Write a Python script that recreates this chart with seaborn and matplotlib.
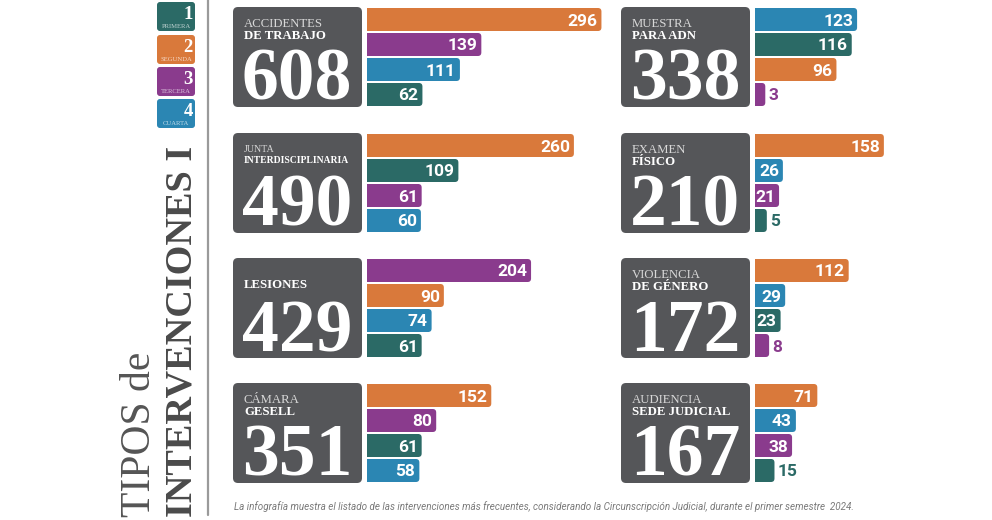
import numpy as np
import pandas as pd
import matplotlib
matplotlib.use('Agg')
import matplotlib.pyplot as plt
import seaborn as sns
from matplotlib.patches import FancyBboxPatch, Rectangle
from matplotlib import colors as mcolors

# ---- data (circunscripciones 1..4 per intervention type)
label_top = ['ACCIDENTES', 'JUNTA', '', 'CÁMARA',
             'MUESTRA', 'EXAMEN', 'VIOLENCIA', 'AUDIENCIA']
label_bottom = ['DE TRABAJO', 'INTERDISCIPLINARIA', 'LESIONES', 'GESELL',
                'PARA ADN', 'FÍSICO', 'DE GÉNERO', 'SEDE JUDICIAL']
totals = [608, 490, 429, 351, 338, 210, 172, 167]
primera = [62, 109, 61, 61, 116, 5, 23, 15]
segunda = [296, 260, 90, 152, 96, 158, 112, 71]
tercera = [139, 61, 204, 80, 3, 21, 8, 38]
cuarta = [111, 60, 74, 58, 123, 26, 29, 43]
circ_names = ['PRIMERA', 'SEGUNDA', 'TERCERA', 'CUARTA']
circ_colors = ['#2b6a66', '#d9793b', '#8a3b8d', '#2b86b3']
title_1 = 'TIPOS de'
title_2 = 'INTERVENCIONES I'
footer = ('La infografía muestra el listado de las intervenciones más frecuentes, '
          'considerando la Circunscripción Judicial, durante el primer semestre  2024.')

sns.set_style('white')
W, H = 992, 520
fig = plt.figure(figsize=(W / 100, H / 100), dpi=100)

# overlay in pixel coords
ax0 = fig.add_axes([0, 0, 1, 1])
ax0.set_xlim(0, W)
ax0.set_ylim(H, 0)
ax0.axis('off')
ax0.patch.set_alpha(0)
ax0.set_zorder(2)

PX = 0.765      # pixels per unit
OFF = 8         # small stub so short bars stay visible
UNDER = 5       # bars start under the white gap
AX_W = 300
col_x = [233, 621]
row_y = [7, 133, 258, 383]
box_w, box_h = 129, 100
box_gray = '#555659'

pal = dict(zip(circ_names, circ_colors))
series = [primera, segunda, tercera, cuarta]
x_lo = -(OFF + UNDER) / PX

for i in range(8):
    c, r = divmod(i, 4)
    bx, by = col_x[c], row_y[r]
    vals = [s[i] for s in series]
    d = pd.DataFrame({'circ': circ_names, 'valor': vals})
    d = d.sort_values('valor', ascending=False).reset_index(drop=True)
    d['pos'] = [str(k) for k in range(4)]

    x_vis = bx + box_w + 5
    ax = fig.add_axes([(x_vis - UNDER) / W, 1 - (by + box_h) / H, AX_W / W, box_h / H])
    ax.set_zorder(1)
    ax.patch.set_alpha(0)
    sns.barplot(data=d, x='valor', y='pos', hue='circ', palette=pal,
                order=['0', '1', '2', '3'], hue_order=circ_names,
                dodge=False, width=0.92, saturation=1, legend=False,
                orient='h', ax=ax)
    ax.set_xlim(x_lo, x_lo + AX_W / PX)
    ax.set_ylim(3.5, -0.5)
    ax.axis('off')

    # rounded bar ends, extended left under the gap
    xr = 3.5 / PX
    yr = 3.5 / 25
    for p in list(ax.patches):
        byp, bw, bh = p.get_y(), p.get_width(), p.get_height()
        if bw <= 0:
            continue
        fb = FancyBboxPatch((x_lo, byp), bw - x_lo, bh,
                            boxstyle='round,pad=0,rounding_size=%f' % xr,
                            mutation_aspect=yr / xr,
                            facecolor=p.get_facecolor(), edgecolor='none')
        p.remove()
        ax.add_patch(fb)

    for j, row in d.iterrows():
        v = row['valor']
        col = pal[row['circ']]
        if v >= 20:
            ax.text(v - 4 / PX, j, str(v), ha='right', va='center_baseline',
                    color='white', fontsize=12.5, fontweight='bold', family='Roboto')
        else:
            ax.text(v + 3 / PX, j, str(v), ha='left', va='center_baseline',
                    color=col, fontsize=12.5, fontweight='bold', family='Roboto')

    # grey box
    ax0.add_patch(Rectangle((bx + box_w, by - 2), 5, box_h + 4,
                            facecolor='white', edgecolor='none', zorder=1))
    ax0.add_patch(FancyBboxPatch((bx, by), box_w, box_h,
                                 boxstyle='round,pad=0,rounding_size=5',
                                 facecolor=box_gray, edgecolor='none', zorder=2))
    long_label = len(label_bottom[i]) > 14
    if label_top[i]:
        ax0.text(bx + 11, by + (19 if long_label else 20), label_top[i],
                 fontsize=7.2 if long_label else 9.2, family='Liberation Serif',
                 color='#d8d8d8', va='baseline', zorder=3)
        ax0.text(bx + 11, by + (30 if long_label else 32), label_bottom[i],
                 fontsize=6.9 if long_label else 9.2, family='Liberation Serif',
                 fontweight='bold', color='white', va='baseline', zorder=3)
    else:
        ax0.text(bx + 11, by + 30, label_bottom[i], fontsize=9.2,
                 family='Liberation Serif', fontweight='bold',
                 color='white', va='baseline', zorder=3)
    ax0.text(bx + 9, by + 93, str(totals[i]), fontsize=53,
             family='Liberation Serif', fontweight='bold', color='white',
             va='baseline', ha='left', zorder=3)

# legend boxes
leg_y = [2, 35, 67, 99]
for k in range(4):
    ax0.add_patch(FancyBboxPatch((157, leg_y[k]), 38, 29,
                                 boxstyle='round,pad=0,rounding_size=3',
                                 facecolor=circ_colors[k], edgecolor='none'))
    ax0.text(193, leg_y[k] + 17, str(k + 1), ha='right', va='baseline',
             fontsize=13.5, fontweight='bold', family='Liberation Serif', color='white')
    light = np.array(mcolors.to_rgb(circ_colors[k])) * 0.3 + 0.7
    ax0.text(176, leg_y[k] + 26, circ_names[k], ha='center', va='baseline',
             fontsize=4.8, family='Liberation Serif', color=light)

# title and divider
ax0.text(150, 517, title_1, rotation=90, rotation_mode='anchor',
         ha='left', va='baseline', fontsize=30, family='Liberation Serif',
         color='#555555')
ax0.text(192, 517, title_2, rotation=90, rotation_mode='anchor',
         ha='left', va='baseline', fontsize=27.5, family='Liberation Serif',
         fontweight='bold', color='#4a4a4a')
ax0.plot([208, 208], [0, 515], color='#9a9a9a', lw=1.6)

ax0.text(544, 507, footer, ha='center', va='center', fontsize=7.1,
         family='Roboto', style='italic', color='#7a7a7a')

fig.savefig('out.png', dpi=100, facecolor='white')
